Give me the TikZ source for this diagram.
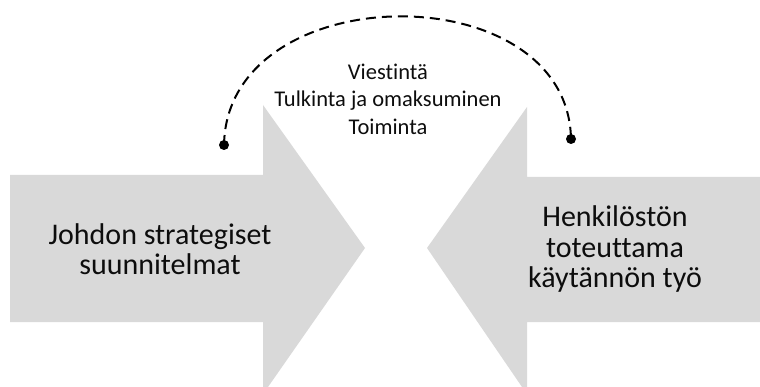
\documentclass[tikz,border=0pt]{standalone}
\usepackage{fontspec}
\setmainfont{Carlito}[Ligatures=NoCommon]
\usepackage{tikz}
\usetikzlibrary{positioning, calc}
\definecolor{arrowgrey}{HTML}{D9D9D9}

\begin{document}
\begin{tikzpicture}[x=1pt,y=-1pt,
        bigtext/.style={align=center, font=\fontsize{30}{30.5}\selectfont, text=black!95},
        smalltext/.style={align=center, font=\fontsize{22.5}{27.5}\selectfont, text=black!95},
        enddot/.style={circle, fill=black, inner sep=0pt, minimum size=10pt}]
        \useasboundingbox (0,0) rectangle (760,387);

        % the two big arrows
        \fill[arrowgrey] (10,175) -- (263,175) -- (263,105) -- (365,248) -- (268,387)
            -- (263,387) -- (263,322) -- (10,322) -- cycle;
        \fill[arrowgrey] (760,177) -- (527,177) -- (527,107) -- (427,248) -- (522,387)
            -- (527,387) -- (527,322) -- (760,322) -- cycle;

        \node[bigtext] (plans) at (160,249) {Johdon strategiset\\suunnitelmat};
        \node[bigtext] (work) at (615,249.5) {Henkilöstön\\toteuttama\\käytännön työ};

        \node[smalltext] (steps) at (388,99) {Viestintä\\Tulkinta ja omaksuminen\\Toiminta};

        \node[enddot] (ldot) at (224,145) {};
        \node[enddot] (rdot) at (571,139) {};

        \draw[line width=2pt, dash pattern=on 10pt off 6pt]
        (ldot.center) .. controls (227,-24) and (568,-27) .. (rdot.center);
    \end{tikzpicture}
\end{document}
